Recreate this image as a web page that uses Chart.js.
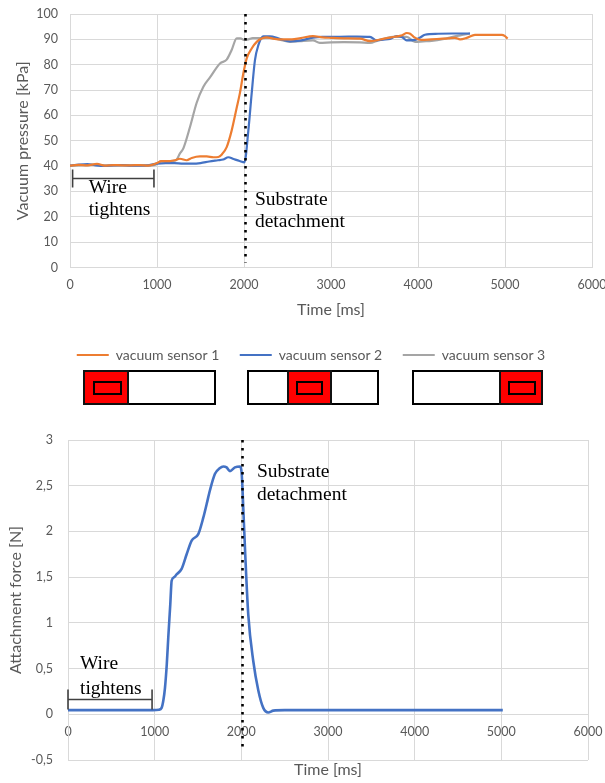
<!DOCTYPE html>
<html>
<head>
<meta charset="utf-8">
<script src="https://cdn.jsdelivr.net/npm/chart.js@4.4.1/dist/chart.umd.min.js"></script>
<style>
  html, body { margin: 0; padding: 0; background: #fff; }
  body { width: 605px; height: 783px; position: relative; overflow: hidden; font-family: Lato, sans-serif; }
  canvas { position: absolute; left: 0; }
  #pressure { top: 0; }
  #force { top: 420px; }
  .strip { position: absolute; top: 370px; height: 35px; box-sizing: border-box; border: 2px solid #000; background: #fff; }
  .pad { position: absolute; top: 370px; height: 35px; box-sizing: border-box; border: 2px solid #111; background: #f00; }
  .cup { position: absolute; top: 381px; height: 14px; box-sizing: border-box; border: 2.5px solid #000; background: #f00; }
</style>
</head>
<body>
<canvas id="pressure" width="605" height="372"></canvas>

<!-- gripper strips: position of each vacuum sensor -->
<div class="strip" style="left:83px;width:133px"></div>
<div class="pad" style="left:83px;width:46px"></div>
<div class="cup" style="left:93px;width:29px"></div>

<div class="strip" style="left:247px;width:132px"></div>
<div class="pad" style="left:287px;width:45px"></div>
<div class="cup" style="left:296px;width:27px"></div>

<div class="strip" style="left:412px;width:131px"></div>
<div class="pad" style="left:499px;width:44px"></div>
<div class="cup" style="left:508px;width:28px"></div>

<canvas id="force" width="605" height="363"></canvas>

<script>
// ---- measured series ----
const sensorNames = ['vacuum sensor 1', 'vacuum sensor 2', 'vacuum sensor 3'];

const sensor1Time = [0, 100, 200, 310, 400, 500, 600, 700, 800, 900, 1000, 1050, 1150, 1207, 1264, 1341, 1399, 1494, 1571, 1648, 1705, 1743, 1801, 1858, 1916, 1954, 1992, 2031, 2088, 2146, 2203, 2260, 2350, 2450, 2550, 2650, 2793, 2900, 3000, 3150, 3333, 3448, 3520, 3600, 3678, 3760, 3820, 3870, 3910, 3950, 4040, 4150, 4250, 4350, 4425, 4483, 4560, 4655, 4800, 4962, 5000, 5030];
const sensor1Kpa  = [40.2, 40.5, 40.3, 40.9, 40.2, 40.4, 40.3, 40.3, 40.4, 40.2, 41.2, 42, 42, 42.3, 42.9, 42.3, 43.2, 43.8, 43.8, 43.5, 43.6, 44.5, 47.5, 54, 63, 69, 76.5, 82.5, 86.4, 89, 90.3, 90.8, 90.2, 90, 90, 90.5, 91.3, 90.8, 90.6, 90.4, 90.3, 89.3, 89.6, 90.2, 90.7, 91.2, 91.6, 92.5, 92.2, 91, 89.8, 90, 90.2, 90.4, 90.6, 90, 90.6, 91.8, 91.8, 91.8, 91.3, 90.3];

const sensor2Time = [0, 100, 200, 300, 400, 500, 600, 700, 800, 900, 1000, 1100, 1200, 1300, 1400, 1500, 1600, 1700, 1760, 1820, 1880, 1950, 2005, 2050, 2088, 2126, 2165, 2222, 2300, 2400, 2529, 2644, 2793, 2900, 3100, 3300, 3448, 3525, 3600, 3678, 3755, 3820, 3870, 3966, 4020, 4080, 4230, 4400, 4598];
const sensor2Kpa  = [40.2, 40.6, 40.8, 40.3, 40.1, 40.3, 40.4, 40.2, 40.2, 40.3, 41, 41.2, 41.2, 41, 41, 41.2, 41.8, 42.3, 42.6, 43.5, 42.8, 42, 41.5, 54, 68.6, 81.8, 87.7, 91.2, 91.2, 90.3, 89.2, 89.5, 90.7, 91, 91, 91.1, 91, 89.6, 89.9, 90.2, 91.3, 90.8, 89.6, 89.8, 90.6, 91.8, 92.2, 92.3, 92.3];

const sensor3Time = [0, 100, 200, 300, 400, 500, 600, 700, 800, 900, 980, 1050, 1150, 1215, 1264, 1303, 1380, 1456, 1533, 1609, 1724, 1801, 1858, 1916, 1960, 2000, 2050, 2100, 2200, 2300, 2400, 2529, 2644, 2793, 2870, 3000, 3150, 3333, 3448, 3540, 3620, 3716, 3870, 3966, 4060, 4157, 4300, 4425, 4520, 4598];
const sensor3Kpa  = [40.2, 40.3, 40.4, 40.6, 40.2, 40.3, 40.3, 40.2, 40.3, 40.3, 40.5, 42, 42, 42.2, 45, 47, 55.5, 65, 71.3, 75, 80.5, 82, 85.8, 90.4, 90.4, 89.8, 90, 90.5, 90.5, 90.6, 90, 89, 89.3, 89.6, 88.6, 88.8, 88.9, 88.8, 88.6, 89.6, 90.3, 91, 91, 89, 89.2, 89.4, 90.2, 91.2, 91.8, 92.3];

const forceTime = [0, 200, 400, 600, 800, 980, 1050, 1080, 1100, 1119, 1140, 1157, 1180, 1196, 1225, 1253, 1311, 1369, 1427, 1503, 1561, 1600, 1638, 1696, 1750, 1792, 1830, 1869, 1926, 1984, 2005, 2025, 2045, 2080, 2138, 2196, 2253, 2311, 2369, 2500, 3000, 3500, 4000, 4500, 5017];
const forceN    = [0.045, 0.045, 0.045, 0.045, 0.045, 0.045, 0.05, 0.07, 0.15, 0.29, 0.55, 0.84, 1.2, 1.46, 1.5, 1.53, 1.59, 1.75, 1.9, 1.97, 2.15, 2.3, 2.45, 2.63, 2.69, 2.71, 2.7, 2.66, 2.7, 2.71, 2.62, 2.2, 1.75, 1.09, 0.58, 0.26, 0.07, 0.02, 0.04, 0.045, 0.045, 0.045, 0.045, 0.045, 0.045];

// ---- axis ticks ----
const timeTicks     = [0, 1000, 2000, 3000, 4000, 5000, 6000];
const pressureTicks = [0, 10, 20, 30, 40, 50, 60, 70, 80, 90, 100];
const forceTicks    = [-0.5, 0, 0.5, 1, 1.5, 2, 2.5, 3];

const pts = (t, v) => t.map((x, i) => ({ x, y: v[i] }));
const fixTicks = list => scale => { scale.ticks = list.map(value => ({ value })); };
// plot edges stay where the layout puts them, end labels may overhang
const noOverhang = extra => scale => { scale.paddingLeft = 0; scale.paddingRight = 0; scale.paddingTop = 0; scale.paddingBottom = 0; extra(scale); };

const GRID = '#d9d9d9';
const TEXT = '#595959';
const tickFont  = { family: 'Lato', size: 12.5 };
const titleFont = { family: 'Lato', size: 16 };

// detachment marker, "wire tightens" bracket and serif notes
const markers = {
  id: 'markers',
  afterDatasetsDraw(chart, args, o) {
    const { ctx } = chart;
    const x = chart.scales.x, y = chart.scales.y;
    ctx.save();
    // dotted line at the moment of detachment
    const dx = Math.round(x.getPixelForValue(o.detachAt)) + 0.5;
    ctx.strokeStyle = '#000';
    ctx.lineWidth = 2.6;
    ctx.setLineDash([2.6, 5.4]);
    ctx.beginPath();
    ctx.moveTo(dx, y.getPixelForValue(o.lineFrom));
    ctx.lineTo(dx, y.getPixelForValue(o.lineTo));
    ctx.stroke();
    ctx.setLineDash([]);
    // bracket
    const b = o.bracket;
    const bx0 = x.getPixelForValue(b.from), bx1 = x.getPixelForValue(b.to);
    const by = Math.round(y.getPixelForValue(b.at)) + 0.5;
    ctx.strokeStyle = '#404040';
    ctx.lineWidth = 1.6;
    ctx.beginPath();
    ctx.moveTo(bx0, by); ctx.lineTo(bx1, by);
    ctx.moveTo(bx0, by - b.tick); ctx.lineTo(bx0, by + b.tick);
    ctx.moveTo(bx1, by - b.tick); ctx.lineTo(bx1, by + b.tick);
    ctx.stroke();
    // notes
    ctx.fillStyle = '#000';
    ctx.font = '19.5px "Liberation Serif", "Times New Roman", serif';
    ctx.textAlign = 'left';
    ctx.textBaseline = 'alphabetic';
    for (const n of o.notes) {
      const nx = x.getPixelForValue(n.x), ny = y.getPixelForValue(n.y);
      n.lines.forEach((s, i) => ctx.fillText(s, nx, ny + i * n.gap));
    }
    ctx.restore();
  }
};

// axis title placed below the plot for the chart whose x axis sits at zero
const lowTitle = {
  id: 'lowTitle',
  afterDraw(chart, args, o) {
    if (!o.text) return;
    const { ctx, chartArea } = chart;
    ctx.save();
    ctx.fillStyle = TEXT;
    ctx.font = `${titleFont.size}px ${titleFont.family}`;
    ctx.textAlign = 'center';
    ctx.textBaseline = 'middle';
    ctx.fillText(o.text, (chartArea.left + chartArea.right) / 2, o.y);
    ctx.restore();
  }
};

// legend centred under the whole figure rather than the layout box
const legendShift = {
  id: 'legendShift',
  afterLayout(chart, args, o) {
    if (chart.legend && o.dx) { chart.legend.left += o.dx; chart.legend.right += o.dx; }
  }
};

const lineSet = (label, data, color, width) => ({
  label, data,
  borderColor: color, backgroundColor: color,
  borderWidth: width, pointRadius: 0, pointHoverRadius: 0,
  cubicInterpolationMode: 'monotone', fill: false
});

const plainNumber = v => String(v);

new Chart(document.getElementById('pressure'), {
  type: 'line',
  data: {
    datasets: [
      lineSet(sensorNames[0], pts(sensor1Time, sensor1Kpa), '#ED7D31', 2.2),
      lineSet(sensorNames[1], pts(sensor2Time, sensor2Kpa), '#4472C4', 2.2),
      lineSet(sensorNames[2], pts(sensor3Time, sensor3Kpa), '#A5A5A5', 2.2)
    ]
  },
  plugins: [markers, legendShift],
  options: {
    responsive: false, animation: false, devicePixelRatio: 1,
    layout: { padding: { top: 14, right: 13, left: 0, bottom: 0 } },
    plugins: {
      tooltip: { enabled: false },
      legend: {
        position: 'bottom',
        labels: { usePointStyle: true, pointStyle: 'line', pointStyleWidth: 32, padding: 20.5, color: TEXT, font: { family: 'Lato', size: 14 } }
      },
      legendShift: { dx: 15 },
      markers: {
        detachAt: 2010, lineFrom: 100, lineTo: 2,
        bracket: { from: 30, to: 965, at: 35.5, tick: 9 },
        notes: [
          { x: 215, y: 29.2, gap: 22, lines: ['Wire', 'tightens'] },
          { x: 2126, y: 24.5, gap: 22, lines: ['Substrate', 'detachment'] }
        ]
      }
    },
    scales: {
      x: {
        type: 'linear', min: 0, max: 6000,
        afterBuildTicks: fixTicks(timeTicks),
        afterFit: noOverhang(s => { s.height = 60; }),
        grid: { color: GRID, drawTicks: false },
        border: { color: GRID },
        ticks: { padding: 10, color: TEXT, font: tickFont, maxRotation: 0, callback: plainNumber },
        title: { display: true, text: 'Time [ms]', color: TEXT, font: titleFont, padding: { top: 0, bottom: 8 } }
      },
      y: {
        min: 0, max: 100,
        afterBuildTicks: fixTicks(pressureTicks),
        afterFit: noOverhang(s => { s.width = 70; }),
        grid: { color: GRID, drawTicks: false },
        border: { color: GRID },
        ticks: { padding: 12, color: TEXT, font: tickFont, callback: plainNumber },
        title: { display: true, text: 'Vacuum pressure [kPa]', color: TEXT, font: titleFont, padding: { top: 13, bottom: 0 } }
      }
    }
  }
});

new Chart(document.getElementById('force'), {
  type: 'line',
  data: {
    datasets: [
      lineSet('Attachment force', pts(forceTime, forceN), '#4472C4', 2.6)
    ]
  },
  plugins: [markers, lowTitle],
  options: {
    responsive: false, animation: false, devicePixelRatio: 1,
    layout: { padding: { top: 20, right: 17, left: 0, bottom: 23 } },
    plugins: {
      tooltip: { enabled: false },
      legend: { display: false },
      lowTitle: { text: 'Time [ms]', y: 350 },
      markers: {
        detachAt: 2010, lineFrom: 3, lineTo: -0.38,
        bracket: { from: 0, to: 970, at: 0.164, tick: 10 },
        notes: [
          { x: 138, y: 0.5, gap: 25, lines: ['Wire', 'tightens'] },
          { x: 2180, y: 2.6, gap: 23, lines: ['Substrate', 'detachment'] }
        ]
      }
    },
    scales: {
      x: {
        type: 'linear', position: { y: 0 }, min: 0, max: 6000,
        afterBuildTicks: fixTicks(timeTicks),
        afterFit: noOverhang(s => { s.height = 0; }),
        grid: { color: GRID, drawTicks: false },
        border: { display: false },
        ticks: { padding: 10, color: TEXT, font: tickFont, maxRotation: 0, callback: plainNumber }
      },
      y: {
        min: -0.5, max: 3,
        afterBuildTicks: fixTicks(forceTicks),
        afterFit: noOverhang(s => { s.width = 68; }),
        grid: { color: GRID, drawTicks: false },
        border: { color: GRID },
        ticks: { padding: 15, color: TEXT, font: tickFont, callback: v => String(v).replace('.', ',') },
        title: { display: true, text: 'Attachment force [N]', color: TEXT, font: titleFont, padding: { top: 6.4, bottom: 0 } }
      }
    }
  }
});
</script>
</body>
</html>
